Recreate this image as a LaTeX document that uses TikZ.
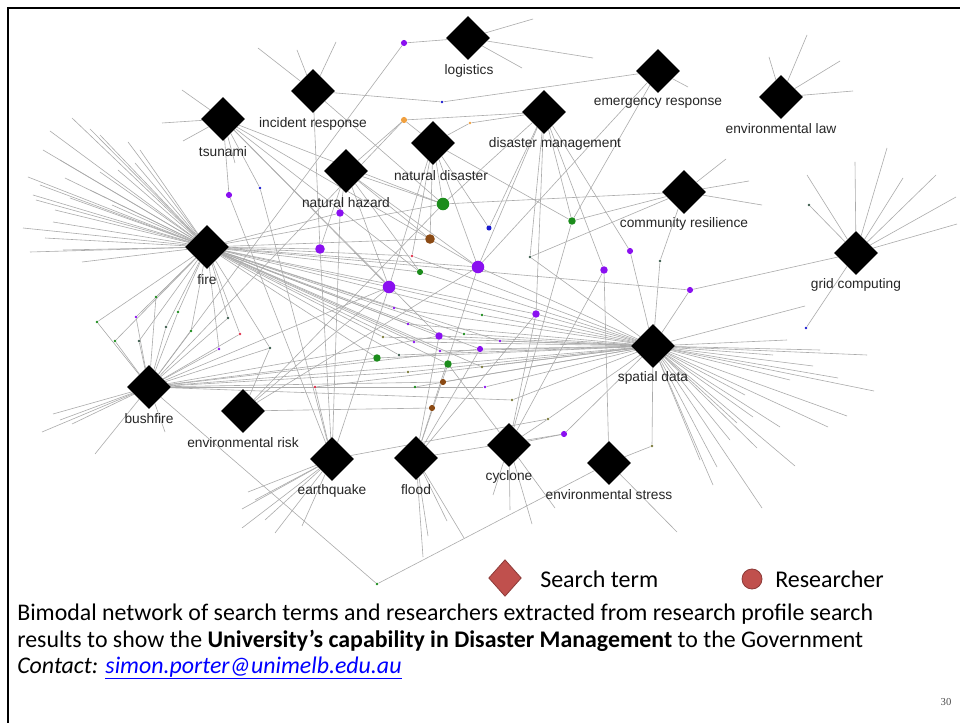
\documentclass[tikz,border=0pt]{standalone}
\usepackage{fontspec}
\setmainfont{Carlito}
\newfontfamily\arialfont{Liberation Sans}
\newfontfamily\timesfont{Liberation Serif}
\usetikzlibrary{shapes.geometric,backgrounds}
\definecolor{cpurp}{HTML}{8A10F0}
\definecolor{cgreen}{HTML}{1C8C1C}
\definecolor{cbrown}{HTML}{8B4A14}
\definecolor{cblue}{HTML}{1A1AD0}
\definecolor{corange}{HTML}{F0A040}
\definecolor{cred}{HTML}{E0304A}
\definecolor{colive}{HTML}{7A7A3A}
\definecolor{cdark}{HTML}{3A5A4A}
\definecolor{legred}{HTML}{C0504D}
\definecolor{legedge}{HTML}{8C3A38}
\definecolor{linkblue}{HTML}{0000FF}
\newcommand\leafset[2]{\foreach \lx/\ly [count=\li] in {#2}{\coordinate (#1-\li) at (\lx,\ly); \draw[edge] (#1) -- (#1-\li);}}
\begin{document}
\begin{tikzpicture}[x=0.75pt,y=-0.75pt,
  term/.style={diamond,fill=black,inner sep=0pt,minimum size=33pt},
  lbl/.style={font=\arialfont\fontsize{10.3}{12}\selectfont,text=black!85,inner sep=0pt},
  res/.style={circle,inner sep=0pt,draw=none},
  rsa/.style={res,minimum size=2.2pt},
  rsb/.style={res,minimum size=3.8pt},
  rsc/.style={res,minimum size=4.6pt},
  rsd/.style={res,minimum size=5.6pt},
  rse/.style={res,minimum size=7.2pt},
  rsf/.style={res,minimum size=9.4pt},
  edge/.style={draw=black!33,line width=0.45pt},
  legtext/.style={font=\fontsize{18}{21}\selectfont,inner sep=0pt,anchor=west},
  captext/.style={font=\fontsize{17.9}{21}\selectfont,inner sep=0pt,anchor=base west}]
\useasboundingbox (0,0) rectangle (960,723);
\draw[line width=2.2pt] (8,723) -- (8,8) -- (960,8);

% search terms
\node[term] (logistics) at (468,38) {};
\node[term] (incident) at (313,91) {};
\node[term] (tsunami) at (223,119) {};
\node[term] (natdis) at (433,143) {};
\node[term] (nathaz) at (346,171) {};
\node[term] (fire) at (207,247) {};
\node[term] (dm) at (544,112) {};
\node[term] (emerg) at (658,71) {};
\node[term] (envlaw) at (781,97) {};
\node[term] (comres) at (684,192) {};
\node[term] (grid) at (856,253) {};
\node[term] (spatial) at (653,346) {};
\node[term] (bushfire) at (149,387) {};
\node[term] (envrisk) at (243,411) {};
\node[term] (quake) at (332,459) {};
\node[term] (flood) at (416,458) {};
\node[term] (cyclone) at (509,445) {};
\node[term] (envstress) at (609,463) {};

\node[lbl] (logistics-l) at (469,71) {logistics};
\node[lbl] (incident-l) at (313,124) {incident response};
\node[lbl] (tsunami-l) at (223,152) {tsunami};
\node[lbl] (natdis-l) at (441,176) {natural disaster};
\node[lbl] (nathaz-l) at (346,203) {natural hazard};
\node[lbl] (fire-l) at (207,280) {fire};
\node[lbl] (dm-l) at (555,144) {disaster management};
\node[lbl] (emerg-l) at (658,103) {emergency response};
\node[lbl] (envlaw-l) at (781,129) {environmental law};
\node[lbl] (comres-l) at (684,224) {community resilience};
\node[lbl] (grid-l) at (856,285) {grid computing};
\node[lbl] (spatial-l) at (653,378) {spatial data};
\node[lbl] (bushfire-l) at (149,419) {bushfire};
\node[lbl] (envrisk-l) at (243,443) {environmental risk};
\node[lbl] (quake-l) at (332,491) {earthquake};
\node[lbl] (flood-l) at (416,490) {flood};
\node[lbl] (cyclone-l) at (509,477) {cyclone};
\node[lbl] (envstress-l) at (609,495) {environmental stress};

% researchers
\node[rsf,fill=cgreen] (gA) at (443,204) {};
\node[rse,fill=cbrown] (bA) at (430,239) {};
\node[rsb,fill=cblue] (uA) at (489,228) {};
\node[rsd,fill=cgreen] (gB) at (572,221) {};
\node[rsd,fill=cpurp] (pA) at (340,213) {};
\node[rse,fill=cpurp] (pB) at (320,249) {};
\node[rsa,fill=cred] (xA) at (412,256) {};
\node[rsc,fill=cgreen] (gC) at (420,272) {};
\node[rsf,fill=cpurp] (pC) at (478,267) {};
\node[rsf,fill=cpurp] (pD) at (389,287) {};
\node[rsc,fill=cpurp] (pE) at (630,251) {};
\node[rsd,fill=cpurp] (pF) at (604,270) {};
\node[rsa,fill=cdark] (dA) at (530,257) {};
\node[rsa,fill=cpurp] (pG) at (394,308) {};
\node[rsa,fill=cgreen] (gD) at (482,315) {};
\node[rsd,fill=cpurp] (pH) at (536,314) {};
\node[rsa,fill=cpurp] (pI) at (408,324) {};
\node[rsd,fill=cpurp] (pJ) at (439,336) {};
\node[rsa,fill=cgreen] (gE) at (464,334) {};
\node[rsa,fill=cpurp] (pK) at (414,342) {};
\node[rsa,fill=cpurp] (pL) at (500,341) {};
\node[rsa,fill=colive] (oA) at (383,337) {};
\node[rsc,fill=cpurp] (pM) at (480,349) {};
\node[rsa,fill=cpurp] (pN) at (440,351) {};
\node[rsd,fill=cgreen] (gF) at (377,358) {};
\node[rsa,fill=cdark] (dB) at (399,355) {};
\node[rsd,fill=cgreen] (gG) at (448,364) {};
\node[rsa,fill=colive] (oB) at (482,367) {};
\node[rsa,fill=colive] (oC) at (408,372) {};
\node[rsc,fill=cbrown] (bB) at (443,382) {};
\node[rsa,fill=cgreen] (gH) at (415,387) {};
\node[rsa,fill=cpurp] (pO) at (485,387) {};
\node[rsa,fill=cred] (xB) at (315,387) {};
\node[rsa,fill=colive] (oD) at (512,400) {};
\node[rsc,fill=cbrown] (bC) at (432,408) {};
\node[rsc,fill=cpurp] (pP) at (404,43) {};
\node[rsa,fill=cblue] (uB) at (442,102) {};
\node[rsc,fill=corange] (yA) at (404,120) {};
\node[rsa,fill=corange] (yB) at (470,123) {};
\node[rsc,fill=cpurp] (pQ) at (229,195) {};
\node[rsa,fill=cblue] (uC) at (260,188) {};
\node[rsa,fill=cdark] (dC) at (660,261) {};
\node[rsc,fill=cpurp] (pR) at (690,290) {};
\node[rsa,fill=cdark] (dD) at (809,205) {};
\node[rsa,fill=cgreen] (gI) at (97,322) {};
\node[rsa,fill=cpurp] (pS) at (136,317) {};
\node[rsa,fill=cgreen] (gJ) at (156,297) {};
\node[rsa,fill=cgreen] (gK) at (178,312) {};
\node[rsa,fill=cdark] (dE) at (166,327) {};
\node[rsa,fill=cgreen] (gL) at (115,341) {};
\node[rsa,fill=cdark] (dF) at (139,341) {};
\node[rsa,fill=cgreen] (gM) at (191,331) {};
\node[rsa,fill=cdark] (dG) at (228,318) {};
\node[rsa,fill=cred] (xC) at (240,334) {};
\node[rsa,fill=cpurp] (pT) at (219,349) {};
\node[rsa,fill=cdark] (dH) at (270,348) {};
\node[rsa,fill=cgreen] (gN) at (377,584) {};
\node[rsa,fill=colive] (oE) at (548,419) {};
\node[rsc,fill=cpurp] (pU) at (564,434) {};
\node[rsa,fill=colive] (oF) at (652,446) {};
\node[rsa,fill=cblue] (uD) at (806,328) {};

\begin{scope}[on background layer]
\fill[white] (0,0) rectangle (960,723);
\foreach \a/\b in {logistics/pP, pP/bushfire, incident/uB, uB/emerg, incident/pB, incident/gA,
  tsunami/pQ, tsunami/pD, tsunami/gC, tsunami/pC, tsunami/pJ, tsunami/gA, tsunami/uC,
  natdis/yA, natdis/yB, natdis/gA, natdis/pC, natdis/xA, natdis/uA, natdis/bA, natdis/gB, natdis/pD,
  nathaz/pA, nathaz/pD, nathaz/gA, nathaz/bA, nathaz/gC, nathaz/pC, nathaz/yA, nathaz/pB,
  dm/yA, dm/yB, dm/uA, dm/gB, dm/pF, dm/pE, dm/pC, dm/gA, dm/dA, dm/pH,
  emerg/gB, emerg/pC, comres/gA, comres/gB, comres/dA, comres/dC,
  grid/pR, grid/uD, grid/dD,
  envrisk/bC, envrisk/dH, envrisk/pD, envrisk/pC, envrisk/gA,
  quake/pB, quake/pA, quake/pD, quake/pQ, quake/uC, quake/oE, quake/xB,
  flood/pM, flood/pH, flood/pJ, flood/gG, flood/pU, flood/pC,
  cyclone/pH, cyclone/oE, cyclone/pU, cyclone/gB, cyclone/gG, cyclone/pF,
  envstress/pF, envstress/oF, envstress/gN, bushfire/gN,
  spatial/oF, spatial/pE, spatial/pR, spatial/dC}
  \draw[edge] (\a) -- (\b);
\foreach \b in {pB, pD, pC, gC, xA, pA, gA, bA, pG, pI, pJ, gE, pK, pL, oA, pM, pN, dB, oB, pH, gD, pR,
  gI, pS, gJ, gK, dE, gL, dF, gM, dG, xC, pT, dH, gF, gG}
  \draw[edge] (fire) -- (\b);
\foreach \b in {pD, pC, pG, gD, pH, pI, pJ, gE, pK, pL, oA, pM, pN, gF, dB, gG, oB, oC, bB, gH, pO, xB,
  oD, pU, oE, dA, gC, xA}
  \draw[edge] (spatial) -- (\b);
\foreach \b in {gI, pS, gJ, gK, dE, gL, dF, gM, dG, xC, pT, dH, xB, gH, bB, pO, gG, oC, pJ, gF, pD, yA, pM, oD}
  \draw[edge] (bushfire) -- (\b);
\leafset{fire}{72/118, 50/131, 90/129, 100/135, 135/163, 43/150, 60/160, 28/177, 40/185, 33/195, 36/200,
  55/210, 53/222, 23/228, 45/238, 63/250, 30/252, 82/262, 70/198, 118/170, 100/172, 65/178, 90/190,
  140/150, 128/142, 112/205}
\leafset{spatial}{805/306, 787/340, 820/350, 867/355, 773/355, 813/366, 838/378, 874/391, 753/417,
  847/416, 737/423, 828/427, 780/427, 757/448, 795/466, 717/467, 713/485, 762/508, 700/460, 745/395,
  790/380, 730/440}
\leafset{bushfire}{53/414, 42/432, 72/424, 95/454, 165/432, 60/420}
\leafset{quake}{248/492, 242/509, 265/520, 242/528, 275/533, 302/526, 255/500}
\leafset{flood}{423/557, 428/536, 447/521, 464/538}
\leafset{cyclone}{493/495, 510/510, 532/524, 555/508}
\leafset{envstress}{677/532}
\leafset{grid}{807/175, 855/162, 887/148, 903/178, 936/175, 956/197, 957/224}
\leafset{envlaw}{769/57, 807/35, 840/61, 853/91}
\leafset{comres}{726/159, 749/181, 762/205}
\leafset{emerg}{688/87}
\leafset{logistics}{533/19, 593/58, 522/68}
\leafset{incident}{258/48, 297/50, 336/42}
\leafset{tsunami}{182/90, 162/123, 183/141, 235/163}
\end{scope}

% legend
\node[diamond,fill=legred,draw=legedge,line width=0.6pt,inner sep=0pt,minimum width=24.5pt,minimum height=27.5pt] (legd) at (505,578) {};
\node[legtext] (legdt) at (540,579) {Search term};
\node[circle,fill=legred,draw=legedge,line width=0.6pt,inner sep=0pt,minimum size=15pt] (legc) at (752,579) {};
\node[legtext] (legct) at (775,579) {Researcher};

% caption
\node[captext] (cap1) at (17,620) {Bimodal network of search terms and researchers extracted from research profile search};
\node[captext] (cap2) at (17,647) {results to show the \textbf{University’s capability in Disaster Management} to the Government};
\node[captext] (cap3) at (17,673) {\textit{Contact: \textcolor{linkblue}{\underline{simon.porter@unimelb.edu.au}}}};
\node[font=\timesfont\fontsize{8}{9}\selectfont,text=black!70,inner sep=0pt] (pagenum) at (946,702) {30};
\end{tikzpicture}
\end{document}
